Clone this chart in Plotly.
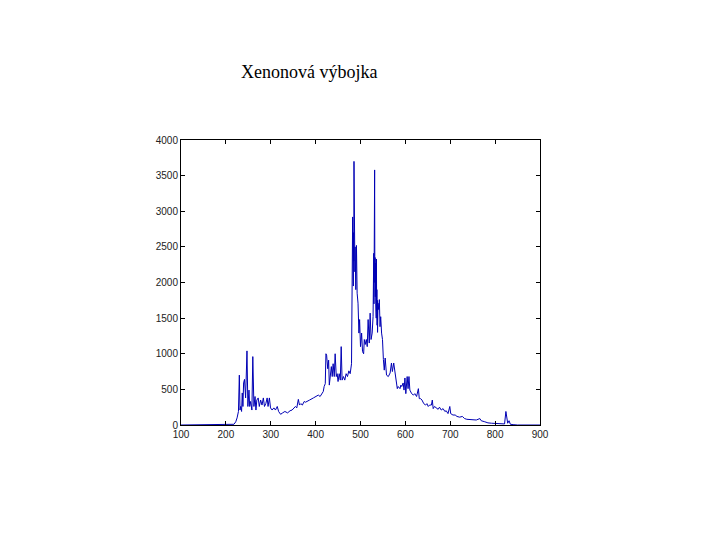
import plotly.graph_objects as go

# Wavelength (nm) and intensity
wavelength = [
    100, 150, 190, 200, 210, 218, 222, 225, 228, 230, 231.5, 233, 235, 236.5, 238, 239.5,
    241.5, 244, 247, 249, 251.5, 253, 255, 258, 260, 262.5, 265, 267, 269, 272, 274.5,
    277.5, 280.5, 283.5, 286, 289, 292, 294, 297, 299.5, 303, 307, 310.5, 314.5, 317.5,
    322, 326.5, 331.5, 337.5, 343, 347.5, 352, 355, 358, 361.5, 364, 367, 370.5, 374.5,
    377.5, 382, 386.5, 395, 402, 406, 410, 413, 417, 419, 421.5, 423, 424.5, 427, 429,
    430.5, 432.5, 435, 437, 439, 441.5, 443.5, 446, 448, 450, 452.5, 455, 457, 459, 462,
    465, 468, 471, 474, 477, 480, 482.5, 483, 483.5, 484, 484.5, 485, 485.5, 486, 486.5,
    487, 487.5, 488, 488.5, 489, 489.5, 491, 492.5, 494.5, 496.5, 498, 500, 502.5, 504.5,
    507, 508.5, 510.5, 513, 515, 517, 519.5, 521.5, 523.5, 526, 528, 529.5, 530, 531,
    531.5, 532, 532.5, 533, 533.5, 534, 534.5, 535, 535.5, 536, 536.5, 537, 537.5, 538,
    539, 540.5, 542, 543.5, 545, 547, 549, 551, 553, 555, 558, 562, 566, 569, 571, 574,
    576, 579, 582, 584, 588, 590, 592, 595, 597, 599, 601, 604, 606, 608, 610, 614, 618,
    621, 625, 629, 631, 634, 637, 641, 645, 648, 651, 654, 658, 660, 662, 665, 669, 673,
    676, 680, 684, 688, 691, 695, 699, 701, 706, 711, 715, 721, 727, 732, 737, 743, 751,
    758, 766, 769, 777, 784, 792, 799, 806, 814, 821, 824, 826, 828, 831, 834, 840, 850,
    900,
]
intensity = [
    0, 0, 0, 3, 5, 10, 45, 100, 190, 700, 210, 260, 190, 450, 260, 590,
    640, 380, 1040, 260, 490, 260, 330, 210, 960, 260, 400, 210, 350, 380, 260,
    350, 280, 380, 260, 300, 380, 260, 380, 240, 210, 240, 210, 260, 190,
    150, 170, 190, 170, 200, 210, 240, 260, 240, 360, 280, 300, 280, 330,
    320, 340, 350, 380, 400, 420, 400, 440, 470, 540, 580, 1000, 980, 790, 910,
    560, 720, 820, 680, 860, 680, 1000, 680, 720, 610, 720, 630, 1100, 630, 680,
    630, 720, 680, 760, 720, 860, 2920, 2100, 2850, 1950, 2700, 2300, 3700, 2690, 2300,
    2600, 2150, 2500, 2100, 2450, 1900, 2520, 1850, 1710, 1290, 1480, 1100, 1290, 1030,
    1000, 1200, 1130, 1200, 1100, 1480, 1150, 1570, 1200, 1290, 1520, 2410, 1700, 2600,
    3580, 2000, 2350, 1800, 2270, 1700, 2030, 1500, 2330, 1600, 1900, 1400, 1750, 1300,
    1710, 1620, 1760, 1380, 1520, 1290, 1200, 920, 770, 940, 700, 680, 730, 870, 750, 870,
    780, 610, 510, 540, 510, 560, 540, 590, 490, 660, 440, 680, 510, 680, 490, 440, 420,
    440, 400, 510, 370, 370, 350, 300, 280, 300, 260, 280, 280, 350, 230, 260, 240, 220,
    250, 210, 230, 190, 200, 160, 260, 160, 140, 140, 120, 110, 120, 90, 80, 80, 70,
    70, 90, 60, 45, 30, 25, 25, 15, 15, 15, 190, 120, 25, 60, 10, 5, 0,
    0,
]
x_ticks = [100, 200, 300, 400, 500, 600, 700, 800, 900]
y_ticks = [0, 500, 1000, 1500, 2000, 2500, 3000, 3500, 4000]
title_text = "Xenonová výbojka"

fig = go.Figure()
fig.add_trace(go.Scatter(
    x=wavelength, y=intensity, mode="lines",
    line=dict(color="#0000b4", width=1),
    hoverinfo="skip", showlegend=False,
))

tick_font = dict(family="Liberation Sans, Arial, sans-serif", size=10, color="#222222")
fig.update_xaxes(
    range=[100, 900], tickvals=x_ticks, ticktext=[str(v) for v in x_ticks],
    showgrid=False, zeroline=False, showline=True, linecolor="black", linewidth=1,
    mirror="allticks", ticks="inside", ticklen=4, tickcolor="black",
    tickfont=tick_font,
)
fig.update_yaxes(
    range=[0, 4000], tickvals=y_ticks, ticktext=[str(v) for v in y_ticks],
    showgrid=False, zeroline=False, showline=True, linecolor="black", linewidth=1,
    mirror="ticks", ticks="inside", ticklen=4, tickcolor="black",
    tickfont=tick_font,
)
fig.add_annotation(
    text=title_text, xref="paper", yref="paper",
    x=(309 - 181) / 359, y=(425 - 72) / 285,
    xanchor="center", yanchor="middle", showarrow=False,
    font=dict(family="Liberation Serif, Times New Roman, serif", size=18, color="black"),
)
fig.update_layout(
    width=720, height=540,
    margin=dict(l=173, r=188, t=132, b=123),
    paper_bgcolor="white", plot_bgcolor="white",
)
fig.write_html("out.html")
